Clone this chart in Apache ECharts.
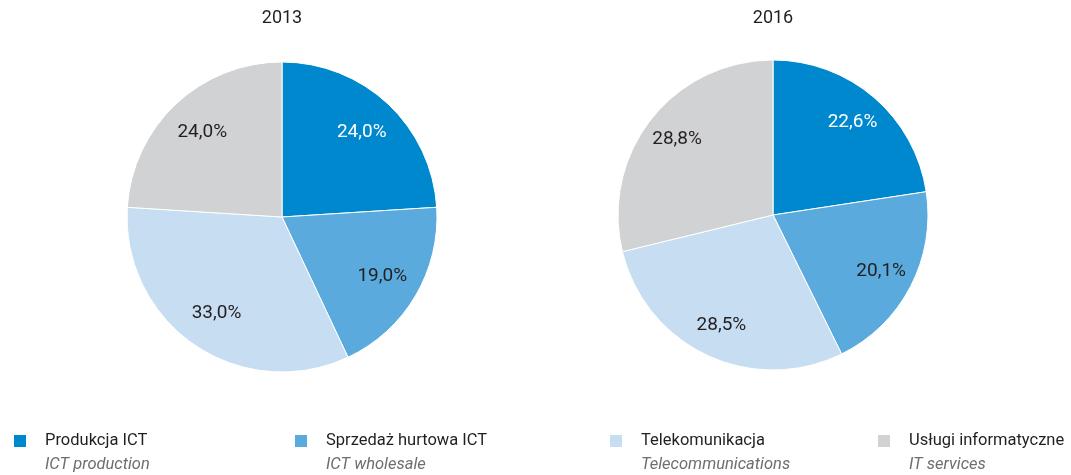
<!DOCTYPE html>
<html>
<head>
<meta charset="utf-8">
<script src="https://cdn.jsdelivr.net/npm/echarts@6/dist/echarts.min.js"></script>
<style>
  html, body { margin: 0; padding: 0; background: #fff; }
  #chart { width: 1071px; height: 475px; }
</style>
</head>
<body>
<div id="chart"></div>
<script>
// dane
var categories = ['Produkcja ICT', 'Sprzedaż hurtowa ICT', 'Telekomunikacja', 'Usługi informatyczne']
var categoriesEn = ['ICT production', 'ICT wholesale', 'Telecommunications', 'IT services']
var years = ['2013', '2016']
var values2013 = [24.0, 19.0, 33.0, 24.0]
var values2016 = [22.6, 20.1, 28.5, 28.8]

var colors = ['#0088cf', '#5aaadd', '#c6ddf2', '#d1d2d4']
var labelColors = ['#ffffff', '#231f20', '#231f20', '#231f20']
var font = "Roboto, 'Liberation Sans Narrow', sans-serif"

var centers = [[282, 217], [773, 215]]
var legendLeft = [12, 293, 608, 876]

function toData(values) {
  return values.map(function(v, i) {
    return {
      name: categories[i],
      value: v,
      itemStyle: { color: colors[i] }
    }
  })
}

function fmt(p) {
  return p.value.toFixed(1).replace('.', ',') + '%'
}

var allValues = [values2013, values2016]
var labelInner = [72, 83]
var series = []
allValues.forEach(function(vals, k) {
  // kolorowe wycinki
  series.push({
    type: 'pie',
    center: centers[k],
    radius: [0, 155],
    startAngle: 90,
    silent: true,
    label: { show: false },
    labelLine: { show: false },
    itemStyle: { borderColor: '#fff', borderWidth: 1 },
    data: toData(vals)
  })
  // etykiety (przezroczysty pierścień)
  series.push({
    type: 'pie',
    center: centers[k],
    radius: [labelInner[k], 155],
    startAngle: 90,
    silent: true,
    itemStyle: { color: 'rgba(0,0,0,0)', borderWidth: 0 },
    label: {
      show: true,
      position: 'inside',
      formatter: fmt,
      fontFamily: font,
      fontSize: 19
    },
    labelLine: { show: false },
    data: vals.map(function(v, i) {
      return { name: categories[i], value: v, label: { color: labelColors[i] } }
    })
  })
})

var legends = categories.map(function(name, i) {
  return {
    left: legendLeft[i],
    top: 409,
    padding: 0,
    orient: 'vertical',
    itemWidth: 14,
    itemHeight: 14,
    icon: 'rect',
    selectedMode: false,
    data: [{ name: name, itemStyle: { color: colors[i] } }],
    formatter: function(n) {
      return '{e| }\n{a|' + n + '}\n{b|' + categoriesEn[i] + '}'
    },
    textStyle: {
      rich: {
        e: { fontSize: 16, lineHeight: 24, padding: [0, 0, 0, 13] },
        a: { fontSize: 16.5, lineHeight: 24, color: '#231f20', fontFamily: font, padding: [0, 0, 0, 13] },
        b: { fontSize: 16.5, lineHeight: 24, color: '#6d6e71', fontFamily: font, fontStyle: 'italic', padding: [0, 0, 0, 13] }
      }
    }
  }
})

var chart = echarts.init(document.getElementById('chart'))
chart.setOption({
  animation: false,
  title: years.map(function(y, k) {
    return {
      text: y,
      left: centers[k][0],
      top: 9,
      padding: 0,
      textAlign: 'center',
      textStyle: { fontFamily: font, fontSize: 18, fontWeight: 'normal', color: '#231f20' }
    }
  }),
  legend: legends,
  series: series
})
</script>
</body>
</html>
